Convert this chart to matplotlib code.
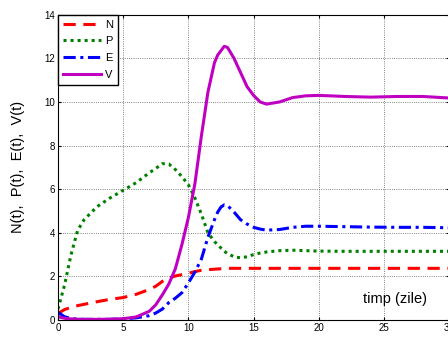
import matplotlib
matplotlib.use('Agg')
import matplotlib.pyplot as plt

plt.rcParams['font.family'] = ['Liberation Sans', 'DejaVu Sans']

# time points (zile)
t = [0, 0.5, 1, 1.5, 2, 3, 4, 5, 6, 7, 7.5, 8, 8.5, 9, 9.5, 10, 10.5, 11, 11.5,
     12, 12.25, 12.5, 12.75, 13, 13.5, 14, 14.5, 15, 15.5, 16, 17, 18, 19, 20,
     22, 24, 26, 28, 30]

# series
N = [0.3, 0.48, 0.58, 0.66, 0.72, 0.84, 0.95, 1.03, 1.18, 1.4, 1.55, 1.77, 1.92,
     2.02, 2.08, 2.14, 2.22, 2.28, 2.31, 2.33, 2.34, 2.35, 2.36, 2.37, 2.37, 2.37,
     2.37, 2.37, 2.37, 2.37, 2.37, 2.37, 2.37, 2.37, 2.37, 2.37, 2.37, 2.37, 2.37]
P = [0.5, 1.6, 3.0, 4.1, 4.6, 5.2, 5.6, 5.95, 6.3, 6.75, 6.95, 7.17, 7.15, 6.9,
     6.58, 6.2, 5.6, 4.85, 4.0, 3.6, 3.45, 3.3, 3.15, 3.05, 2.9, 2.85, 2.9, 3.0,
     3.07, 3.12, 3.18, 3.2, 3.18, 3.16, 3.15, 3.15, 3.15, 3.15, 3.15]
E = [0.35, 0.15, 0.07, 0.04, 0.03, 0.03, 0.03, 0.05, 0.1, 0.2, 0.32, 0.5, 0.8,
     1.0, 1.25, 1.7, 2.2, 2.8, 3.8, 4.6, 4.95, 5.18, 5.28, 5.25, 4.95, 4.6, 4.4,
     4.25, 4.17, 4.12, 4.15, 4.25, 4.3, 4.3, 4.28, 4.26, 4.25, 4.25, 4.23]
V = [0.15, 0.08, 0.05, 0.04, 0.03, 0.03, 0.04, 0.06, 0.14, 0.4, 0.7, 1.15, 1.65,
     2.35, 3.45, 4.7, 6.25, 8.45, 10.45, 11.8, 12.15, 12.35, 12.55, 12.5, 12.0,
     11.35, 10.7, 10.3, 10.0, 9.9, 10.0, 10.2, 10.28, 10.3, 10.25, 10.22, 10.25,
     10.25, 10.18]

labels = ['N', 'P', 'E', 'V']
xticks = [0, 5, 10, 15, 20, 25, 30]
yticks = [0, 2, 4, 6, 8, 10, 12, 14]

fig = plt.figure(figsize=(4.48, 3.37), dpi=100)
ax = fig.add_axes([0.1295, 0.0504, 0.873, 0.906])

ax.plot(t, N, color='#ff0000', ls=(0, (4, 2.5)), lw=2.2, label=labels[0])
ax.plot(t, P, color='#008000', ls=(0, (1, 1.3)), lw=2.2, label=labels[1])
ax.plot(t, E, color='#0000ff', ls=(0, (4, 1.5, 1, 1.5)), lw=2.2, label=labels[2])
ax.plot(t, V, color='#c000c0', ls='-', lw=2.2, label=labels[3])

ax.set_xlim(0, 30)
ax.set_ylim(0, 14)
ax.set_xticks(xticks)
ax.set_yticks(yticks)
ax.tick_params(direction='in', length=2.5, labelsize=7, pad=2,
               top=True, right=True)
ax.grid(True, ls=':', color='0.35', lw=0.6)
for s in ax.spines.values():
    s.set_linewidth(0.8)

ax.set_ylabel('N(t),  P(t),  E(t),  V(t)', fontsize=10.5)
ax.yaxis.set_label_coords(-0.085, 0.5)
ax.text(0.862, 0.069, 'timp (zile)', transform=ax.transAxes, fontsize=10.5,
        ha='center', va='center')

leg = ax.legend(loc='upper left', borderaxespad=0, fontsize=8, handlelength=3.4,
                labelspacing=0.6, fancybox=False, framealpha=1,
                edgecolor='black', handletextpad=0.4, borderpad=0.45)
leg.get_frame().set_linewidth(1.0)

fig.savefig('out.png', dpi=100)
